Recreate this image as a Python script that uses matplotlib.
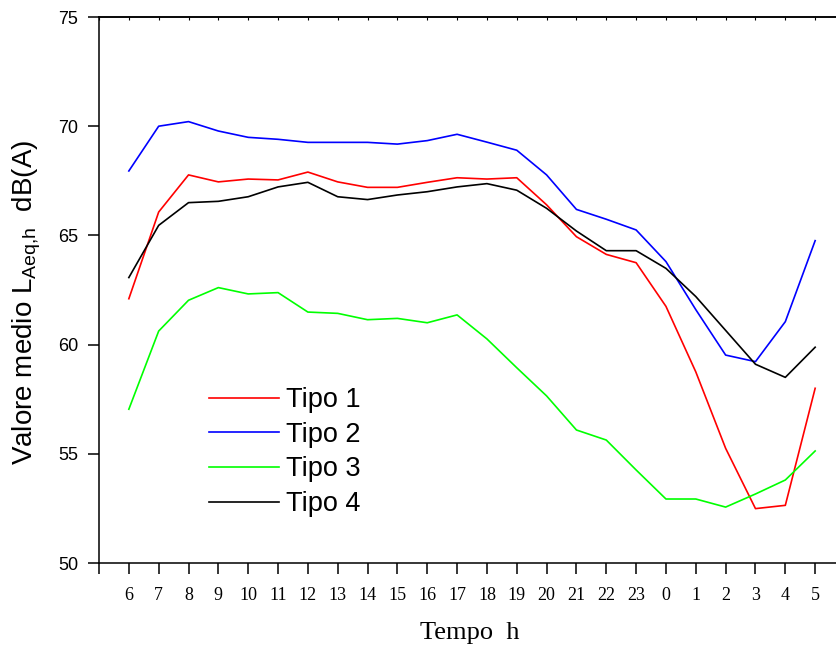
import numpy as np
import matplotlib
matplotlib.use("Agg")
import matplotlib.pyplot as plt

plt.rcParams['font.family'] = ['Liberation Sans', 'DejaVu Sans']
plt.rcParams['mathtext.fontset'] = 'custom'
plt.rcParams['mathtext.rm'] = 'Liberation Sans'
plt.rcParams['mathtext.it'] = 'Liberation Sans'

# ore del giorno (dalle 6 alle 5 del giorno dopo)
ore = ['6', '7', '8', '9', '10', '11', '12', '13', '14', '15', '16', '17',
       '18', '19', '20', '21', '22', '23', '0', '1', '2', '3', '4', '5']

tipo1 = [62.1, 66.07, 67.77, 67.45, 67.58, 67.54, 67.9, 67.45, 67.2, 67.2, 67.43, 67.64,
         67.58, 67.64, 66.4, 64.94, 64.13, 63.75, 61.75, 58.75, 55.25, 52.49, 52.64, 58.0]
tipo2 = [67.95, 70.0, 70.21, 69.78, 69.49, 69.4, 69.26, 69.26, 69.26, 69.18, 69.34, 69.63,
         69.27, 68.9, 67.77, 66.19, 65.74, 65.25, 63.8, 61.6, 59.52, 59.22, 61.05, 64.76]
tipo3 = [57.04, 60.62, 62.03, 62.61, 62.32, 62.38, 61.49, 61.43, 61.14, 61.2, 61.0, 61.36,
         60.26, 58.94, 57.65, 56.09, 55.63, 54.26, 52.93, 52.93, 52.56, 53.16, 53.8, 55.13]
tipo4 = [63.07, 65.46, 66.5, 66.56, 66.77, 67.22, 67.43, 66.77, 66.64, 66.85, 67.0, 67.22,
         67.37, 67.07, 66.24, 65.2, 64.3, 64.3, 63.49, 62.2, 60.65, 59.1, 58.5, 59.88]

serie = [('Tipo 1', tipo1, '#ff0000'),
         ('Tipo 2', tipo2, '#0000ff'),
         ('Tipo 3', tipo3, '#00ff00'),
         ('Tipo 4', tipo4, '#000000')]

fig = plt.figure(figsize=(8.36, 6.5), dpi=100)
ax = fig.add_axes([99 / 836, 87 / 650, 746 / 836, 546 / 650])

x = np.arange(len(ore))
for nome, valori, colore in serie:
    ax.plot(x, valori, color=colore, lw=1.2, label=nome)

ax.set_xlim(-1, 24)
ax.set_ylim(50, 75)

# asse x: tick anche sul bordo sinistro, etichette in serif
ax.set_xticks(np.arange(-1, 24))
ax.set_xticklabels([''] + ore, family=['Liberation Serif'], fontsize=13)
ax.tick_params(axis='x', direction='out', length=8, width=1.1, pad=9)
ax.set_yticks([50, 55, 60, 65, 70, 75])
ax.tick_params(axis='y', direction='out', length=8, width=1.1, pad=7, labelsize=13)

# piccoli tick sul bordo superiore
axt = ax.secondary_xaxis('top')
axt.set_xticks(np.arange(-1, 24))
axt.set_xticklabels([])
axt.tick_params(direction='in', length=2.5, width=0.8)
axt.spines['top'].set_linewidth(1.1)

for lato in ['left', 'bottom', 'top']:
    ax.spines[lato].set_linewidth(1.1)
ax.spines['right'].set_visible(False)

fig.text(27 / 836, 1 - 302 / 650, r'Valore medio L$_{\mathrm{Aeq{,}h}}$  dB(A)',
         rotation=90, ha='center', va='center', fontsize=20)
fig.text(470 / 836, 1 - 633 / 650, 'Tempo  h', ha='center', va='center',
         fontsize=19, family=['Liberation Serif'])

ax.legend(loc='upper left', bbox_to_anchor=(209 / 836, 1 - 387 / 650),
          bbox_transform=fig.transFigure, frameon=False, fontsize=19.5,
          borderpad=0, borderaxespad=0, handlelength=2.6, handletextpad=0.25,
          labelspacing=0.32)

fig.savefig('out.png', dpi=100)
